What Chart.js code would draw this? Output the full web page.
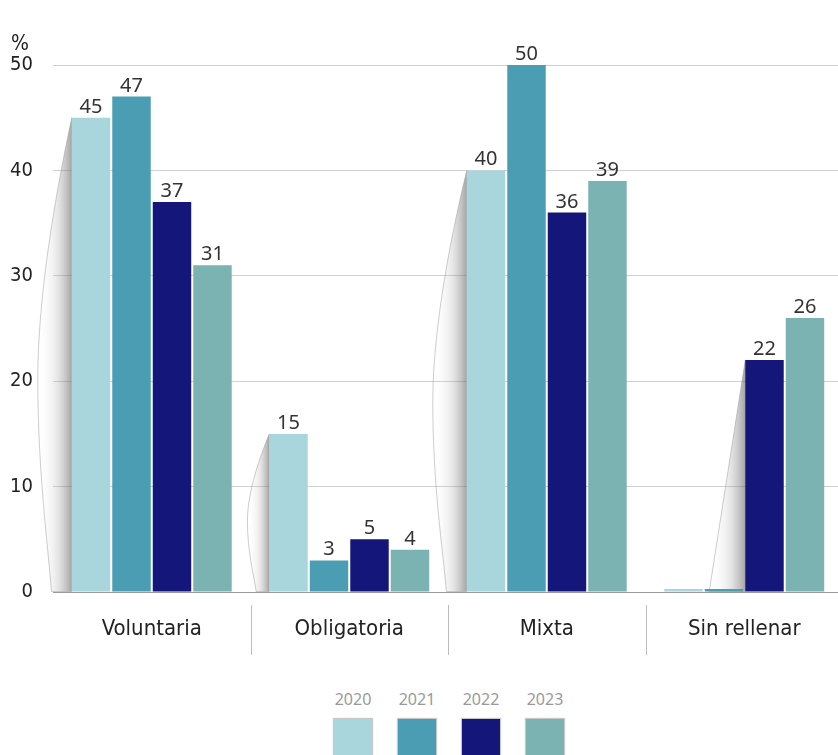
<!DOCTYPE html>
<html>
<head>
<meta charset="utf-8">
<script src="https://cdn.jsdelivr.net/npm/chart.js@4.4.1/dist/chart.umd.min.js"></script>
<style>
    html, body { margin: 0; padding: 0; background: #fff; overflow: hidden; width: 838px; height: 755px; }
    #wrap { position: absolute; left: 0; top: 0; width: 845px; height: 670px; }
    #legend { position: absolute; left: 321px; top: 687px; display: flex; }
    .item { width: 64px; display: flex; flex-direction: column; align-items: center; }
    .item span { font: 16px "Noto Sans", sans-serif; color: #9a9a9a; height: 24px; line-height: 24px; }
    .item i { display: block; width: 38px; height: 36px; margin-top: 8px; box-shadow: 0 0 1px 1px #c8c8c8; }
</style>
</head>
<body>
<div id="wrap"><canvas id="chart" width="845" height="670"></canvas></div>
<div id="legend"></div>
<script>
// data
const categories = ["Voluntaria", "Obligatoria", "Mixta", "Sin rellenar"];
const years = ["2020", "2021", "2022", "2023"];
const values2020 = [45, 15, 40, 0];
const values2021 = [47, 3, 50, 0];
const values2022 = [37, 5, 36, 22];
const values2023 = [31, 4, 39, 26];
const yTicks = [0, 10, 20, 30, 40, 50];
const colors = ["#a9d5dc", "#4a9db2", "#14167a", "#7bb3b2"];

const series = [values2020, values2021, values2022, values2023];
const axisFont = "'DejaVu Sans Condensed', 'DejaVu Sans', sans-serif";

// paper-curl shadow to the left of the first bar in each group
const shadowPlugin = {
    id: "shadow",
    beforeDatasetsDraw(chart) {
        const ctx = chart.ctx;
        categories.forEach(function (c, i) {
            let k = series.findIndex(function (s) { return s[i] > 0; });
            if (k < 0) return;
            const bar = chart.getDatasetMeta(k).data[i];
            const x = bar.x - bar.width / 2;
            const top = bar.y;
            const base = bar.base;
            const h = base - top;
            const straight = k > 0;
            const d = straight ? 36 : Math.min(34, 14 + h * 0.05);
            ctx.save();
            ctx.beginPath();
            ctx.moveTo(x, top);
            if (straight) {
                ctx.lineTo(x - d, base);
            } else {
                ctx.bezierCurveTo(x - d * 0.6, top + h * 0.2, x - d, top + h * 0.4, x - d, top + h * 0.55);
                ctx.bezierCurveTo(x - d, top + h * 0.75, x - d * 0.7, top + h * 0.9, x - d * 0.6, base);
            }
            ctx.lineTo(x, base);
            ctx.closePath();
            const g = ctx.createLinearGradient(x, 0, x - d, 0);
            g.addColorStop(0, "rgba(90,90,90,0.55)");
            g.addColorStop(0.45, "rgba(170,170,170,0.25)");
            g.addColorStop(1, "rgba(255,255,255,0)");
            ctx.fillStyle = g;
            ctx.fill();
            ctx.strokeStyle = "rgba(150,150,150,0.6)";
            ctx.lineWidth = 0.8;
            ctx.stroke();
            ctx.restore();
        });
    },
};

// value labels, % sign and category separators
const extrasPlugin = {
    id: "extras",
    afterDatasetsDraw(chart) {
        const ctx = chart.ctx;
        const xs = chart.scales.x;
        ctx.save();
        ctx.font = "20px 'Noto Sans', sans-serif";
        ctx.fillStyle = "#333";
        ctx.textAlign = "center";
        ctx.textBaseline = "alphabetic";
        chart.data.datasets.forEach(function (ds, k) {
            chart.getDatasetMeta(k).data.forEach(function (bar, i) {
                if (!ds.data[i]) return;
                ctx.fillText(ds.data[i], bar.x, bar.y - 5);
            });
        });

        ctx.textAlign = "left";
        ctx.font = "21px " + axisFont;
        ctx.fillStyle = "#222";
        ctx.fillText("%", 11, 50);

        ctx.strokeStyle = "#bdbdbd";
        ctx.lineWidth = 1;
        for (let i = 1; i < categories.length; i++) {
            const sx = Math.round((xs.getPixelForValue(i - 1) + xs.getPixelForValue(i)) / 2) + 0.5;
            ctx.beginPath();
            ctx.moveTo(sx, 605);
            ctx.lineTo(sx, 655);
            ctx.stroke();
        }
        ctx.restore();
    },
};

new Chart(document.getElementById("chart"), {
    type: "bar",
    data: {
        labels: categories,
        datasets: years.map(function (y, k) {
            return {
                label: y,
                data: series[k],
                backgroundColor: colors[k],
                categoryPercentage: 0.82,
                barPercentage: 0.95,
                minBarLength: 3,
            };
        }),
    },
    options: {
        responsive: false,
        animation: false,
        layout: { padding: { top: 65, right: 2 } },
        plugins: { legend: { display: false }, tooltip: { enabled: false } },
        scales: {
            x: {
                grid: { display: false },
                border: { display: false },
                ticks: {
                    padding: 16,
                    color: "#222",
                    font: { size: 22, family: axisFont },
                },
                afterFit(scale) { scale.height = 78; },
            },
            y: {
                min: 0,
                max: 50,
                afterBuildTicks(scale) {
                    scale.ticks = yTicks.map(function (v) { return { value: v }; });
                },
                grid: {
                    drawTicks: false,
                    color(c) { return c.tick && c.tick.value === 0 ? "#999" : "#d0d0d0"; },
                },
                border: { display: false },
                ticks: {
                    padding: 20,
                    color: "#222",
                    font: { size: 20, family: axisFont },
                },
                afterFit(scale) { scale.width = 53; },
            },
        },
    },
    plugins: [shadowPlugin, extrasPlugin],
});

// legend: year above a colour box
const legend = document.getElementById("legend");
years.forEach(function (y, k) {
    const item = document.createElement("div");
    item.className = "item";
    item.innerHTML = "<span>" + y + "</span><i style='background:" + colors[k] + "'></i>";
    legend.appendChild(item);
});
</script>
</body>
</html>
